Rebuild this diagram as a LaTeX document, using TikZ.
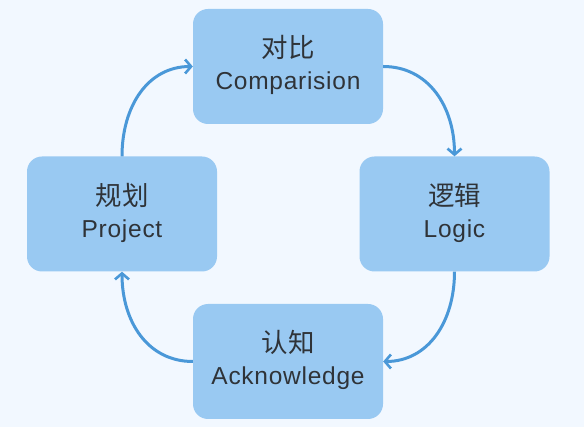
\documentclass[tikz,border=0pt]{standalone}
\usepackage{fontspec}
\setmainfont[LetterSpace=3]{Liberation Sans}
\newfontfamily\cjk[Scale=1.08]{Noto Sans CJK SC}
\usetikzlibrary{arrows.meta}
\definecolor{bgc}{HTML}{F2F8FF}
\definecolor{boxc}{HTML}{99C9F2}
\definecolor{arrc}{HTML}{4A98D8}
\definecolor{txtc}{HTML}{2F3338}
\tikzset{
  card/.style={fill=boxc, draw=none, rounded corners=15pt, minimum width=190pt, minimum height=115pt, inner sep=0pt},
  lbl/.style={text=txtc, align=center, font=\fontsize{24.5pt}{32pt}\selectfont},
  flow/.style={draw=arrc, line width=3pt, -{Straight Barb[length=6pt,width=14pt,line width=2.6pt]}}
}
\begin{document}
\begin{tikzpicture}[x=1pt,y=-1pt]
\path[fill=bgc] (0,0) rectangle (584,427);
\useasboundingbox (0,0) rectangle (584,427);
\node[card] (top) at (288,66.5) {};
\node[card] (right) at (454.5,214) {};
\node[card] (bot) at (288,361.5) {};
\node[card] (left) at (122,214) {};
\node[lbl] (ttop) at (288,65) {{\cjk 对比}\\Comparision};
\node[lbl] (tright) at (454.5,213) {{\cjk 逻辑}\\Logic};
\node[lbl] (tbot) at (288,360) {{\cjk 认知}\\Acknowledge};
\node[lbl] (tleft) at (122,213) {{\cjk 规划}\\Project};
\draw[flow] (top.east) .. controls +(45,0) and +(0,-50) .. (right.north);
\draw[flow] (right.south) .. controls +(0,50) and +(45,0) .. (bot.east);
\draw[flow] (bot.west) .. controls +(-45,0) and +(0,50) .. (left.south);
\draw[flow] (left.north) .. controls +(0,-50) and +(-45,0) .. (top.west);
\end{tikzpicture}
\end{document}
